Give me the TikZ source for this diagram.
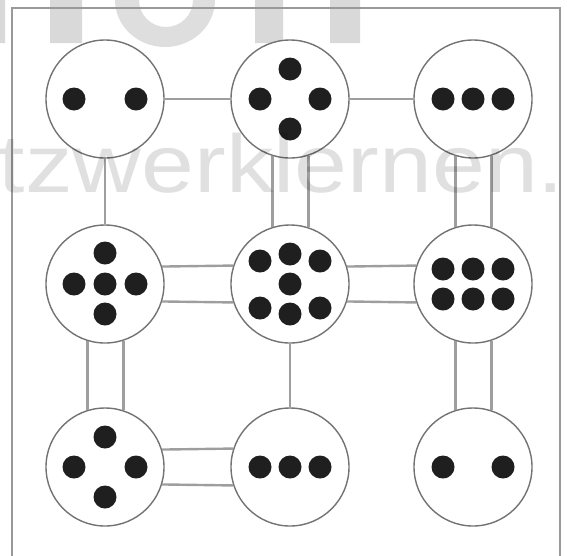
\documentclass[tikz,border=0pt]{standalone}
\usepackage{fontspec}
\setmainfont{Liberation Sans}
\usetikzlibrary{calc}

\begin{document}
\begin{tikzpicture}[x=1pt,y=-1pt,
  every node/.style={draw=black!55,line width=1.4pt,shape=circle,fill=white,inner sep=0pt,minimum size=118pt},
  link/.style={draw=black!38,line width=2.4pt},
  pip/.style={fill=black!88},
  wmark/.style={draw=none,fill=none,shape=rectangle,minimum size=0pt,text=black,text opacity=0.12}]
  \useasboundingbox (0,0) rectangle (567,555);
  \clip (0,0) rectangle (567,555);
  % cut-off letters at the top
  \fill[black!15] (0,0) rectangle (5,43) (50,0) rectangle (82,43) (255,0) rectangle (283,43) (330,0) rectangle (360,43);
  \fill[black!13,even odd rule] (165,0) ellipse [x radius=50,y radius=47] (166,0) ellipse [x radius=27,y radius=27];
  \draw[black!40,line width=2.4pt] (12,560) -- (12,8) -- (560,8) -- (560,560);
  \path (105,99) node (c11) {} (290,99) node (c12) {} (473,99) node (c13) {}
  (105,284) node (c21) {} (290,284) node (c22) {} (473,284) node (c23) {}
  (105,467) node (c31) {} (290,467) node (c32) {} (473,467) node (c33) {};
  \draw[link] (c11) -- (c12) (c12) -- (c13) (c11) -- (c21) (c22) -- (c32);
  \foreach \a/\b in {c21/c22,c22/c23,c31/c32}
    \draw[link] (\a.17.8) -- (\b.162.2) (\a.-17.8) -- (\b.-162.2);
  \foreach \a/\b in {c12/c22,c13/c23,c21/c31,c23/c33}
    \draw[link] (\a.-72.2) -- (\b.72.2) (\a.-107.8) -- (\b.107.8);
  \foreach \c/\pts in {c11/{-31/0,31/0}, c12/{0/-30,-30/0,30/0,0/30}, c13/{-30/0,0/0,30/0},
    c21/{0/-31,-31/0,0/0,31/0,0/30}, c22/{0/-30,-30/-23,30/-23,0/0,-30/24,30/24,0/30},
    c23/{-30/-15,0/-15,30/-15,-30/15,0/15,30/15}, c31/{0/-30,-31/0,31/0,0/30},
    c32/{-30/0,0/0,30/0}, c33/{-30/0,30/0}}
    \foreach \dx/\dy in \pts
      \fill[pip] (\c) ++(\dx,\dy) circle (11.5);
  % watermark
  \node[wmark,anchor=base west,xscale=1.16,transform shape,font=\fontsize{82}{82}\selectfont] (wm) at (-2,192) {tzwerklernen.};
\end{tikzpicture}
\end{document}
